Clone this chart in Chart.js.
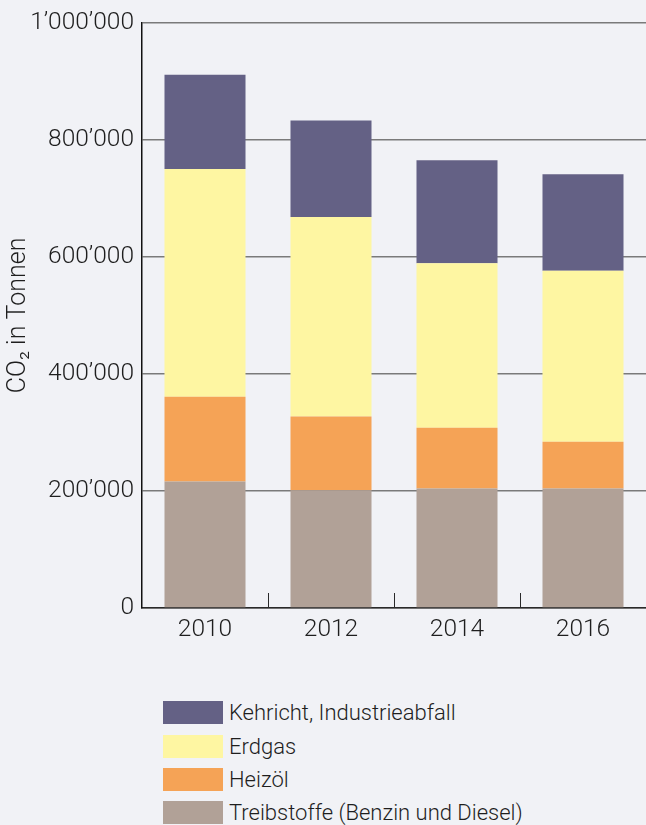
<!DOCTYPE html>
<html lang="de">
<head>
<meta charset="utf-8">
<title>CO2 in Tonnen</title>
<script src="https://cdn.jsdelivr.net/npm/chart.js@4/dist/chart.umd.min.js"></script>
<style>
  html, body { margin: 0; padding: 0; background: #f1f2f6; }
  body { width: 646px; height: 825px; position: relative; overflow: hidden; font-family: Roboto, 'Liberation Sans', sans-serif; }
  #contenedor { position: absolute; left: 0; top: 0; width: 646px; height: 650px; }
  #myUl { position: absolute; left: 163px; top: 696px; margin: 0; padding: 0; list-style: none; }
  #myUl li { display: flex; align-items: center; height: 33.4px; font-size: 22px; font-weight: 300; color: #1e1e1e; }
  #myUl li span.caja { display: inline-block; width: 60px; height: 23px; margin-right: 6px; }
</style>
</head>
<body>
<div id="contenedor"><canvas id="myChart"></canvas></div>
<ul id="myUl"></ul>
<script>
// DATOS
const jahre = ['2010', '2012', '2014', '2016']
const treibstoffe = [216000, 201000, 204000, 204000]
const heizoel = [145000, 126000, 104000, 80000]
const erdgas = [389000, 341000, 281000, 292000]
const kehricht = [161000, 165000, 176000, 165000]

const etiquetas = ['Treibstoffe (Benzin und Diesel)', 'Heizöl', 'Erdgas', 'Kehricht, Industrieabfall']
const colores = ['#b1a197', '#f5a356', '#fef6a2', '#646185']

const fuente = "Roboto, 'Liberation Sans', sans-serif"

// marcas cortas entre las categorias (hacia arriba)
const marcas = {
    id: 'marcas_entre',
    afterDraw: (chart) => {
        const ctx = chart.ctx
        const x = chart.scales.x
        const abajo = chart.chartArea.bottom
        ctx.save()
        ctx.strokeStyle = '#2a2a2a'
        ctx.lineWidth = 1
        for (let i = 0; i < jahre.length - 1; i++) {
            const px = Math.round((x.getPixelForValue(i) + x.getPixelForValue(i + 1)) / 2) + 0.5
            ctx.beginPath()
            ctx.moveTo(px, abajo - 15)
            ctx.lineTo(px, abajo)
            ctx.stroke()
        }
        ctx.restore()
    }
}

const chart = new Chart(document.getElementById('myChart'), {
    type: 'bar',
    data: {
        labels: jahre,
        datasets: [
            { label: etiquetas[0], data: treibstoffe, backgroundColor: colores[0] },
            { label: etiquetas[1], data: heizoel, backgroundColor: colores[1] },
            { label: etiquetas[2], data: erdgas, backgroundColor: colores[2] },
            { label: etiquetas[3], data: kehricht, backgroundColor: colores[3] }
        ]
    },
    options: {
        responsive: true,
        maintainAspectRatio: false,
        animation: false,
        categoryPercentage: 1,
        barPercentage: 0.643,
        layout: { padding: { top: 6, right: 0, bottom: 0, left: 0 } },
        scales: {
            x: {
                stacked: true,
                afterFit: (s) => { s.height = 42 },
                grid: { display: false, drawTicks: false },
                border: { display: true, color: '#2a2a2a', width: 1.5 },
                ticks: { color: '#1e1e1e', padding: 7, font: { family: fuente, size: 24.5, weight: 300 } }
            },
            y: {
                stacked: true,
                min: 0,
                max: 1000000,
                afterFit: (s) => { s.width = 142 },
                grid: { color: '#7a7a7a', lineWidth: 1.5, drawTicks: false },
                border: { display: true, color: '#111', width: 1.5 },
                ticks: {
                    stepSize: 200000,
                    padding: 8,
                    color: '#1e1e1e',
                    font: { family: fuente, size: 24.5, weight: 300 },
                    callback: (v) => String(v).replace(/\B(?=(\d{3})+(?!\d))/g, '\u2019')
                },
                title: {
                    display: true,
                    text: 'CO\u2082 in Tonnen',
                    color: '#1e1e1e',
                    padding: { top: 4, bottom: 0 },
                    font: { family: fuente, size: 25, weight: 300 }
                }
            }
        },
        plugins: {
            legend: { display: false },
            tooltip: { enabled: false }
        }
    },
    plugins: [marcas]
})

// LEYENDA
const fragment = document.createDocumentFragment()
chart.data.datasets.slice().reverse().forEach(ds => {
    const li = document.createElement('li')
    const caja = document.createElement('span')
    caja.className = 'caja'
    caja.style.background = ds.backgroundColor
    li.appendChild(caja)
    li.appendChild(document.createTextNode(ds.label))
    fragment.appendChild(li)
})
document.getElementById('myUl').appendChild(fragment)
</script>
</body>
</html>
